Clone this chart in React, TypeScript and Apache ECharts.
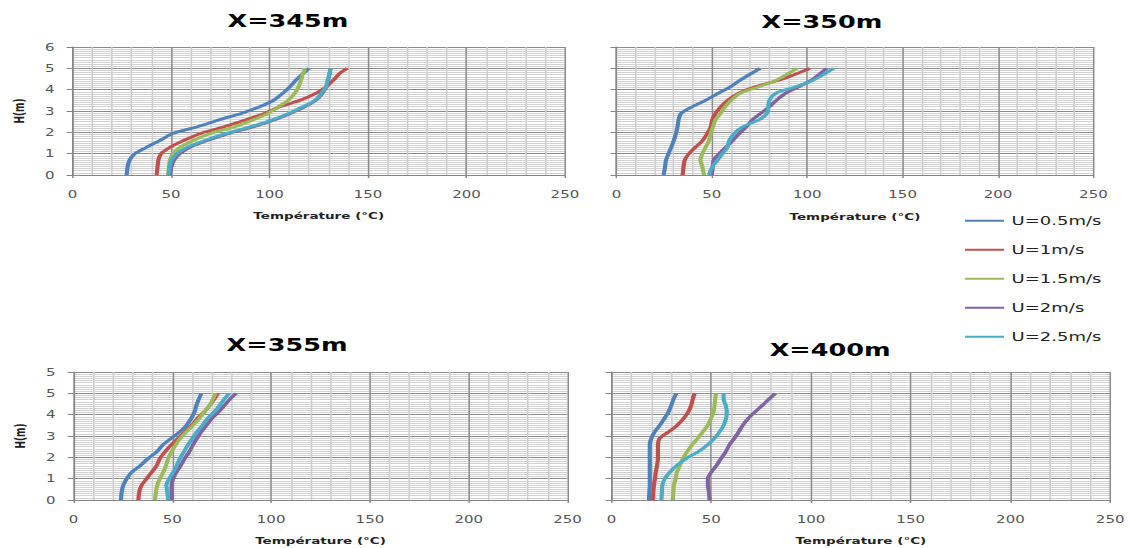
import React, { useEffect, useRef } from "react";
import * as echarts from "echarts";

// ---------- data ----------
const HEIGHTS = [0, 0.4, 0.7, 1.0, 1.3, 1.6, 1.95, 2.25, 2.6, 2.9, 3.2, 3.5, 3.85, 4.15, 4.45, 4.75, 5];
const SERIES_NAMES = ["U=0.5m/s", "U=1m/s", "U=1.5m/s", "U=2m/s", "U=2.5m/s"];
const COLORS = ["#4F81BD", "#C0504D", "#9BBB59", "#8064A2", "#4BACC6"];
const PANEL_TITLES = ["X=345m", "X=350m", "X=355m", "X=400m"];
const Y_LABELS_TOP = ["0", "1", "2", "3", "4", "5", "6"];
const Y_LABELS_BOTTOM = ["0", "1", "2", "3", "4", "5", "5"];
const X_AXIS_NAME = "Température (°C)";
const Y_AXIS_NAME = "H(m)";

const X345_U05 = [27.5, 28, 29, 31.7, 37.6, 44, 51, 63, 75, 86, 95, 102, 107, 110.5, 113.5, 117, 120];
const X345_U1 = [42.7, 43.2, 43.6, 45, 49.5, 56, 65, 76.5, 88.5, 97.7, 105.3, 115.5, 124, 129, 132.5, 135.5, 139.5];
const X345_U15 = [48.7, 49, 49.5, 51, 54.6, 61, 70, 82, 92, 99.4, 104.5, 109.5, 113, 114.8, 116, 117, 118];
const X345_U2 = [49.5, 50.2, 51.5, 54.5, 59.5, 68, 79.5, 91.5, 103, 111, 118, 123.5, 127, 129, 129.8, 130.5, 131];
const X345_U25 = [48.7, 49.3, 50.3, 53, 58, 66.4, 78, 90, 102, 110, 117, 123, 126.5, 128.7, 129.5, 130.5, 131];

const X350_U05 = [24.7, 25.5, 26, 27.3, 28.7, 30, 31.2, 32, 32.6, 34, 39.7, 46.7, 53.8, 60, 65, 70.5, 75.3];
const X350_U1 = [34.7, 35.2, 35.8, 38, 41.4, 45, 47.6, 49.4, 50.3, 52, 54.7, 58.2, 64.4, 73.2, 85.5, 94.4, 101.4];
const X350_U15 = [45.9, 45, 44, 45, 46.7, 48.5, 49.4, 50.6, 52, 54.7, 57, 60, 65.3, 75, 83.8, 90, 94.7];
const X350_U2 = [50, 50.5, 51, 53.8, 57.3, 60.8, 64.4, 68, 71.4, 75.8, 80.2, 83.8, 89, 96, 102.3, 106.7, 110.2];
const X350_U25 = [48.5, 50.3, 53, 55.6, 58.2, 59, 61.7, 66, 75, 79, 79.6, 80.2, 83.8, 94.4, 103.2, 109.3, 113.8];

const X355_U05 = [24, 24.4, 25.2, 26.9, 29.4, 33.6, 37.8, 42, 45.4, 49.6, 53.8, 57.1, 59.7, 61.3, 62.2, 63.5, 64.7];
const X355_U1 = [32.8, 33.3, 34.5, 37, 39.5, 42, 43.7, 46.2, 49.6, 53, 56.3, 59.7, 63, 66.4, 69, 71.4, 73.1];
const X355_U15 = [41.2, 41.7, 42.4, 43.7, 45.4, 46.7, 47.9, 49.6, 51.8, 54.1, 57.1, 60.5, 63.9, 66.4, 69, 70.6, 72];
const X355_U2 = [49.6, 49.6, 49.6, 50.4, 52, 54.1, 56.3, 58.5, 60.5, 62.5, 64.7, 67.2, 70.3, 73.6, 76.5, 79.3, 82.3];
const X355_U25 = [47.9, 47.4, 47, 48.4, 50.4, 52.1, 53.8, 55.8, 58, 60.2, 62.5, 65.2, 68, 71.4, 74, 76.5, 78.7];

const X400_U05 = [18.8, 19, 19.2, 19.2, 19.2, 19.2, 19.2, 19.2, 19.2, 20, 21.7, 24.2, 26.7, 28.7, 30, 31.2, 32.5];
const X400_U1 = [20.8, 21, 21.3, 21.8, 22.2, 22.8, 23.3, 23.3, 23.3, 24.2, 28.7, 32.9, 36.4, 38.6, 40, 40.8, 41.7];
const X400_U15 = [30.8, 31, 31.3, 32.2, 32.8, 34.2, 35.8, 37.8, 40.5, 43.3, 45.8, 48.3, 50, 51.2, 51.7, 52, 52.5];
const X400_U2 = [49.2, 48.8, 48.3, 48.3, 50, 52.5, 55, 57.2, 59.2, 61.7, 63.8, 65.8, 68.8, 72.2, 75.8, 79.2, 82.2];
const X400_U25 = [25, 25.3, 25.5, 26.7, 29.2, 32.5, 37.5, 43.3, 48.3, 51.7, 54.2, 56.2, 57.5, 57.8, 57.2, 56.2, 56.2];

const PANEL_DATA = [
  [X345_U05, X345_U1, X345_U15, X345_U2, X345_U25],
  [X350_U05, X350_U1, X350_U15, X350_U2, X350_U25],
  [X355_U05, X355_U1, X355_U15, X355_U2, X355_U25],
  [X400_U05, X400_U1, X400_U15, X400_U2, X400_U25],
];

// ---------- layout (chart is drawn narrow and stretched horizontally) ----------
const STRETCH = 1129 / 752;
const CW = 752;
const CH = 548;
const GRIDS = [
  { left: 48.3, top: 47, width: 328, height: 128 },
  { left: 410.6, top: 47, width: 317.7, height: 128 },
  { left: 49, top: 372, width: 329, height: 128 },
  { left: 407.3, top: 372, width: 333.4, height: 128 },
];
const TITLE_POS = [
  [191.8, 21],
  [547.5, 22.5],
  [191.2, 345],
  [552.9, 350],
];

export default function App() {
  const ref = useRef<HTMLDivElement>(null);

  useEffect(() => {
    document.body.style.margin = "0";
    if (!ref.current) return;
    const chart = echarts.init(ref.current, undefined, { renderer: "svg" });

    const gray = "#868686";
    const font = "DejaVu Sans";

    const xAxes = GRIDS.map((_, i) => ({
      type: "value",
      gridIndex: i,
      min: 0,
      max: 250,
      interval: 50,
      name: X_AXIS_NAME,
      nameLocation: "middle",
      nameGap: i === 1 ? 37 : 36,
      nameTextStyle: { fontFamily: font, fontWeight: "bold", fontSize: 9, color: "#222" },
      axisLine: { show: true, lineStyle: { color: gray, width: 1 } },
      axisTick: { show: true, length: 3, lineStyle: { color: gray } },
      axisLabel: { show: true, margin: 14, fontFamily: font, fontSize: 10, color: "#555" },
      splitLine: { show: true, lineStyle: { color: "#8a8a8a", width: 1 } },
      minorTick: { show: false, splitNumber: 5 },
      minorSplitLine: { show: true, lineStyle: { color: "#cdcdcd", width: 1 } },
    }));

    const yAxes = GRIDS.map((_, i) => {
      const left = i === 0 || i === 2;
      const labels = i < 2 ? Y_LABELS_TOP : Y_LABELS_BOTTOM;
      return {
        type: "value",
        gridIndex: i,
        min: 0,
        max: 6,
        interval: 1,
        name: left ? Y_AXIS_NAME : "",
        nameLocation: "middle",
        nameGap: 31,
        nameTextStyle: { fontFamily: font, fontWeight: "bold", fontSize: 9, color: "#222" },
        axisLine: { show: true, lineStyle: { color: gray, width: 1 } },
        axisTick: { show: true, length: 4, lineStyle: { color: gray } },
        axisLabel: {
          show: left,
          margin: 12,
          fontFamily: font,
          fontSize: 10,
          color: "#555",
          formatter: (v: number) => labels[Math.round(v)] ?? "",
        },
        splitLine: { show: true, lineStyle: { color: "#8a8a8a", width: 1 } },
        minorTick: { show: false, splitNumber: 10 },
        minorSplitLine: { show: true, lineStyle: { color: "#d2d2d2", width: 1 } },
      };
    });

    const series: any[] = [];
    PANEL_DATA.forEach((panel, p) => {
      panel.forEach((temps, s) => {
        series.push({
          type: "line",
          name: SERIES_NAMES[s],
          xAxisIndex: p,
          yAxisIndex: p,
          data: temps.map((t, k) => [t, HEIGHTS[k]]),
          symbol: "none",
          smooth: 0.3,
          lineStyle: { color: COLORS[s], width: 2.8 },
          itemStyle: { color: COLORS[s] },
          z: 3 + s,
        });
      });
    });

    const titles = PANEL_TITLES.map((t, i) => ({
      type: "text",
      x: TITLE_POS[i][0],
      y: TITLE_POS[i][1],
      style: {
        text: t,
        fontFamily: font,
        fontWeight: "bold",
        fontSize: 17,
        fill: "#000",
        align: "center",
        verticalAlign: "middle",
        textAlign: "center",
        textVerticalAlign: "middle",
      },
    }));

    chart.setOption({
      animation: false,
      backgroundColor: "#fff",
      grid: GRIDS.map((g) => ({ ...g, containLabel: false })),
      xAxis: xAxes,
      yAxis: yAxes,
      legend: {
        data: SERIES_NAMES,
        orient: "vertical",
        left: 637.8,
        top: 208.7,
        padding: 5,
        icon: "rect",
        itemWidth: 26,
        itemHeight: 2,
        itemGap: 15,
        textStyle: { fontFamily: font, fontSize: 12, color: "#222", lineHeight: 14 },
        selectedMode: false,
      },
      graphic: titles,
      series,
    });

    return () => chart.dispose();
  }, []);

  return (
    <div style={{ width: 1129, height: 548, overflow: "hidden", background: "#fff" }}>
      <div
        ref={ref}
        style={{
          width: CW,
          height: CH,
          transform: `scaleX(${STRETCH})`,
          transformOrigin: "0 0",
        }}
      />
    </div>
  );
}
